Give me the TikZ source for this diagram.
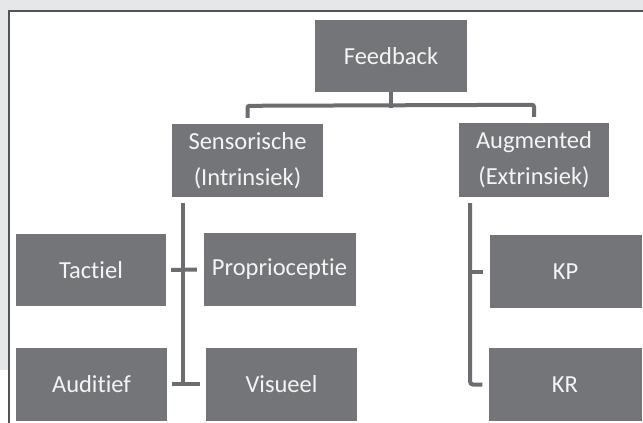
\documentclass[tikz,border=0pt]{standalone}
\usepackage{fontspec}
\setmainfont{Carlito}[Ligatures={NoCommon,NoContextual}]
\definecolor{bggray}{HTML}{E6E7E8}
\definecolor{framec}{HTML}{545456}
\definecolor{boxc}{HTML}{747578}
\definecolor{connc}{HTML}{6C6D70}
\definecolor{txtc}{HTML}{F4F4F4}
\tikzset{
  box/.style={fill=boxc, text=txtc, inner sep=0pt, align=center,
    font=\fontsize{24.5}{36}\selectfont},
  conn/.style={draw=connc, line width=4pt}
}
\begin{document}
\begin{tikzpicture}[x=1pt, y=-1pt]
\useasboundingbox (0,0) rectangle (643,423);
% background and frame
\fill[bggray] (0,0) rectangle (643,423);
\fill[white] (9,11) rectangle (643,423);
\fill[white] (0,370) rectangle (9,423);
\draw[framec, line width=1.5pt] (9,423) -- (9,11);
\draw[framec, line width=2pt] (8.25,11) -- (643,11);
% nodes
\node[box, minimum width=152pt, minimum height=72pt] (fb) at (391,56) {Feedback};
\node[box, minimum width=151pt, minimum height=73pt] (sens) at (247.5,160.5) {Sensorische\\(Intrinsiek)};
\node[box, minimum width=150pt, minimum height=74pt] (aug) at (534,160) {Augmented\\(Extrinsiek)};
\node[box, minimum width=150pt, minimum height=72pt] (tac) at (91,270) {Tactiel};
\node[box, minimum width=152pt, minimum height=73pt] (prop) at (279.5,269.5) {Proprioceptie};
\node[box, minimum width=151pt, minimum height=73pt] (aud) at (91.5,384) {Auditief};
\node[box, minimum width=151pt, minimum height=73pt] (vis) at (281.5,384) {Visueel};
\node[box, minimum width=152pt, minimum height=73pt] (kp) at (565.5,271.5) {KP};
\node[box, minimum width=153pt, minimum height=73pt] (kr) at (565,384.5) {KR};
% top connector
\draw[conn] (fb.south) -- ([yshift=-16pt]fb.south);
\draw[conn, rounded corners=2pt] ([yshift=6pt]sens.north) -- ([yshift=18pt]sens.north)
  -- ([yshift=18pt]aug.north) -- ([yshift=6pt]aug.north);
% left group
\coordinate (ltop) at (183,203);
\coordinate (lbot) at (183,384);
\draw[conn] (ltop) -- (lbot);
\draw[conn] ([xshift=5pt]tac.east) -- ([xshift=-6.5pt]prop.west);
\draw[conn] ([xshift=5pt]aud.east) -- ([xshift=-6pt]vis.west);
% right group
\coordinate (rtop) at (470,203);
\draw[conn, rounded corners=3pt] (rtop) |- ([xshift=-6pt]kr.west);
\draw[conn] (rtop |- kp.west) -- ([xshift=-6.5pt]kp.west);
\end{tikzpicture}
\end{document}
